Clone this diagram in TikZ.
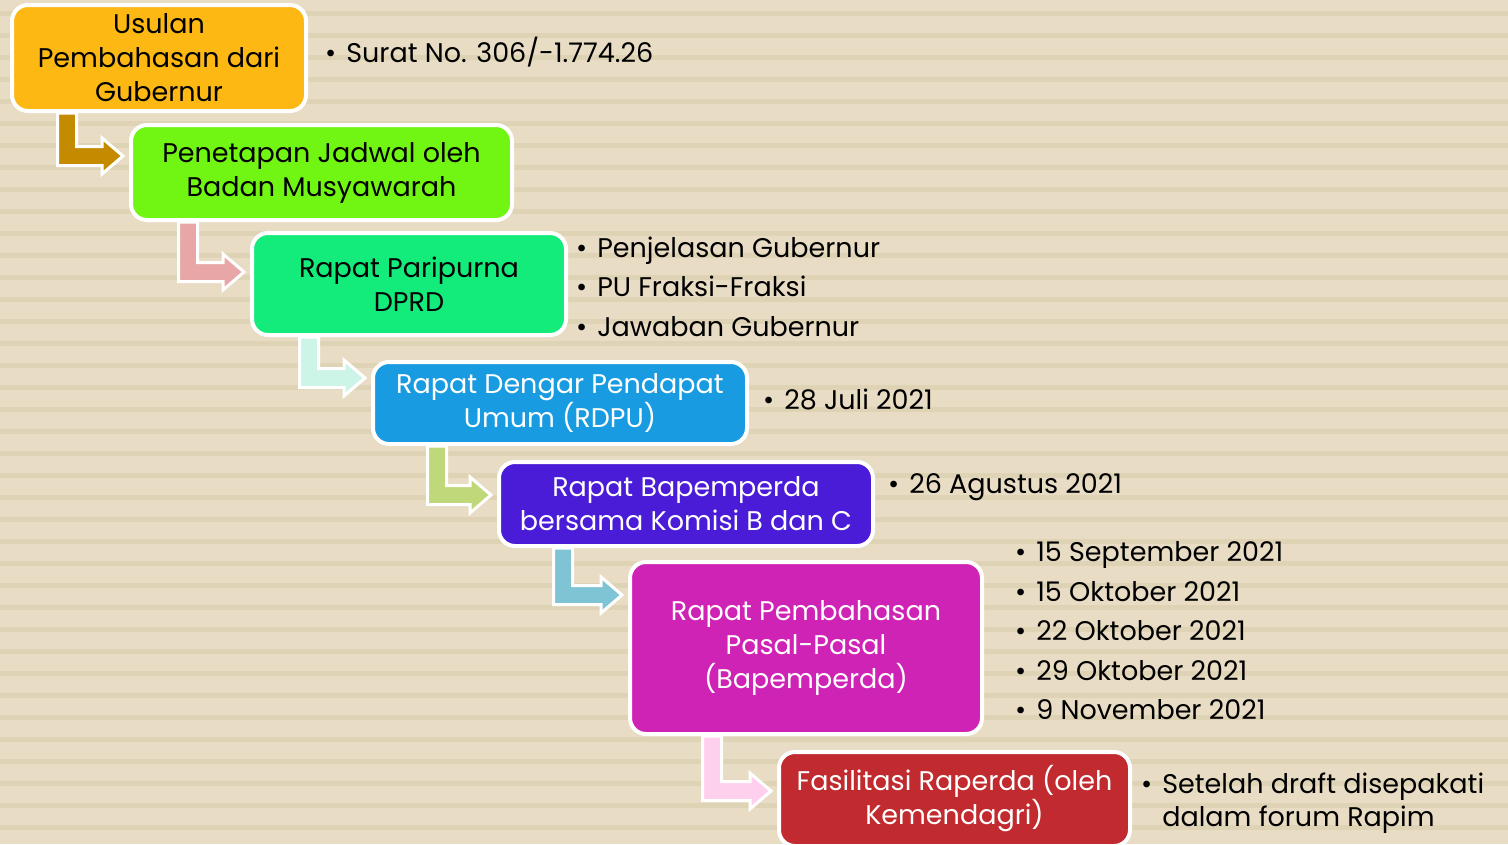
\documentclass[tikz,border=0pt]{standalone}
\usepackage{fontspec}
\setmainfont{Poppins}[Numbers=Monospaced]
\usetikzlibrary{positioning,calc}

\definecolor{paper}{RGB}{232,220,196}
\definecolor{paperline}{RGB}{222,211,181}
\definecolor{cUsulan}{RGB}{253,184,19}
\definecolor{cJadwal}{RGB}{113,245,18}
\definecolor{cParipurna}{RGB}{19,236,123}
\definecolor{cRdpu}{RGB}{24,155,224}
\definecolor{cBapem}{RGB}{74,28,216}
\definecolor{cPasal}{RGB}{207,35,182}
\definecolor{cFasil}{RGB}{193,42,46}
\definecolor{aGold}{RGB}{196,138,0}
\definecolor{aRose}{RGB}{232,166,166}
\definecolor{aMint}{RGB}{204,245,232}
\definecolor{aOlive}{RGB}{190,216,122}
\definecolor{aSky}{RGB}{126,196,212}
\definecolor{aPink}{RGB}{255,208,238}

% bent block arrow from one box down and into the next
\newcommand{\stepconn}[5]{%
  \coordinate (bend) at (#4,#5);
  \filldraw[conn, fill=#1]
    ($(bend |- #2.south)+(-9.5,0)$) -- ($(bend)+(-9.5,9.5)$)
    -- ($(bend -| #3.west)+(-27,9.5)$) -- ($(bend -| #3.west)+(-27,18)$)
    -- ($(bend -| #3.west)+(-6,0)$)
    -- ($(bend -| #3.west)+(-27,-18)$) -- ($(bend -| #3.west)+(-27,-9.5)$)
    -- ($(bend)+(9.5,-9.5)$) -- ($(bend |- #2.south)+(9.5,0)$) -- cycle;
}

\begin{document}
\begin{tikzpicture}[
    x=1pt, y=-1pt,
    % Estilos dos nós
    every node/.style={font=\fontsize{27}{34}\selectfont},
    box/.style={draw=white, line width=4pt, rounded corners=16pt,
                align=center, inner sep=0pt},
    darkbox/.style={box, text=black},
    lightbox/.style={box, text=white},
    notes/.style={anchor=west, inner sep=0pt, align=left,
                  font=\fontsize{27}{33}\selectfont},
    conn/.style={draw=white, line width=3pt, line join=miter}
]

\useasboundingbox (0,0) rectangle (1508,844);
\clip (0,0) rectangle (1508,844);

% fundo listrado
\fill[paper] (0,0) rectangle (1508,844);
\foreach \y in {11,33,...,833}
    \fill[paperline] (0,\y) rectangle (1508,{\y+5});

% Caixas do fluxo
\node[darkbox, fill=cUsulan, minimum width=294pt, minimum height=106pt]
    (usulan) at (159,58) {Usulan\\Pembahasan dari\\Gubernur};
\node[darkbox, fill=cJadwal, minimum width=381pt, minimum height=95pt]
    (jadwal) at (321.5,172.5) {Penetapan Jadwal oleh\\Badan Musyawarah};
\node[darkbox, fill=cParipurna, minimum width=314pt, minimum height=102pt]
    (paripurna) at (409,284) {Rapat Paripurna\\DPRD};
\node[lightbox, fill=cRdpu, minimum width=374pt, minimum height=82pt]
    (rdpu) at (560,403) {Rapat Dengar Pendapat\\Umum (RDPU)};
\node[lightbox, fill=cBapem, minimum width=374pt, minimum height=84pt]
    (bapem) at (686,504) {Rapat Bapemperda\\bersama Komisi B dan C};
\node[lightbox, fill=cPasal, minimum width=352pt, minimum height=172pt]
    (pasal) at (806,648) {Rapat Pembahasan\\Pasal-Pasal\\(Bapemperda)};
\node[lightbox, fill=cFasil, minimum width=351pt, minimum height=94pt]
    (fasil) at (954.5,799) {Fasilitasi Raperda (oleh\\Kemendagri)};

% Setas
\stepconn{aGold}{usulan}{jadwal}{67}{156}
\stepconn{aRose}{jadwal}{paripurna}{188}{272}
\stepconn{aMint}{paripurna}{rdpu}{309}{378}
\stepconn{aOlive}{rdpu}{bapem}{437}{495}
\stepconn{aSky}{bapem}{pasal}{563}{595}
\stepconn{aPink}{pasal}{fasil}{712}{791}

% Anotações
\node[notes] (n1) at (325,55) {%
    \begin{tabular}{@{}l@{\hspace{10pt}}l@{}}
    \textbullet & Surat No. 306/-1.774.26
    \end{tabular}};
\node[notes] (n3) at (576,290) {%
    \begin{tabular}{@{}l@{\hspace{10pt}}l@{}}
    \textbullet & Penjelasan Gubernur\\[6.5pt]
    \textbullet & PU Fraksi-Fraksi\\[6.5pt]
    \textbullet & Jawaban Gubernur
    \end{tabular}};
\node[notes] (n4) at (763,403) {%
    \begin{tabular}{@{}l@{\hspace{10pt}}l@{}}
    \textbullet & 28 Juli 2021
    \end{tabular}};
\node[notes] (n5) at (888,487) {%
    \begin{tabular}{@{}l@{\hspace{10pt}}l@{}}
    \textbullet & 26 Agustus 2021
    \end{tabular}};
\node[notes] (n6) at (1015,634) {%
    \begin{tabular}{@{}l@{\hspace{10pt}}l@{}}
    \textbullet & 15 September 2021\\[6.5pt]
    \textbullet & 15 Oktober 2021\\[6.5pt]
    \textbullet & 22 Oktober 2021\\[6.5pt]
    \textbullet & 29 Oktober 2021\\[6.5pt]
    \textbullet & 9 November 2021
    \end{tabular}};
\node[notes] (n7) at (1141,803) {%
    \begin{tabular}{@{}l@{\hspace{10pt}}l@{}}
    \textbullet & Setelah draft disepakati\\
                & dalam forum Rapim
    \end{tabular}};

\end{tikzpicture}
\end{document}
